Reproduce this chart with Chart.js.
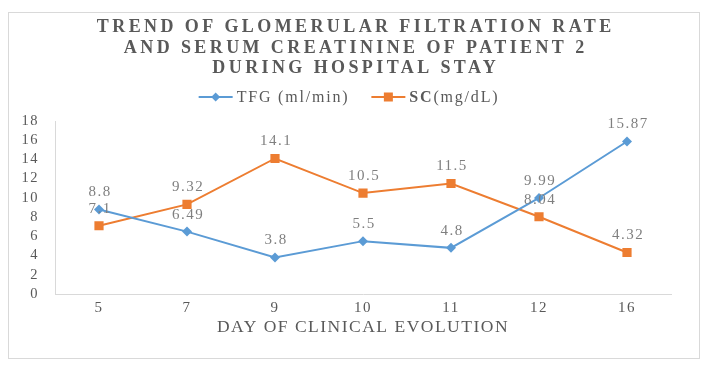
<!DOCTYPE html>
<html>
<head>
<meta charset="utf-8">
<script src="https://cdn.jsdelivr.net/npm/chart.js@4.4.1/dist/chart.umd.min.js"></script>
<style>
    html, body { margin: 0; padding: 0; background: #fff; }
    #frame { position: absolute; left: 8px; top: 12px; width: 690px; height: 345px; border: 1px solid #d9d9d9; }
    canvas { display: block; }
</style>
</head>
<body>
<div id="frame"><canvas id="gfrChart" width="690" height="345"></canvas></div>
<script>
// Chart data
const TITLE_LINES = [
    'TREND OF GLOMERULAR FILTRATION RATE',
    'AND SERUM CREATININE OF PATIENT 2',
    'DURING HOSPITAL STAY'
];
const DAYS = ['5', '7', '9', '10', '11', '12', '16'];
const TFG_VALUES = [8.8, 6.49, 3.8, 5.5, 4.8, 9.99, 15.87];
const SC_VALUES = [7.1, 9.32, 14.1, 10.5, 11.5, 8.04, 4.32];
const Y_TICKS = [0, 2, 4, 6, 8, 10, 12, 14, 16, 18];
const SERIES_NAMES = ['TFG (ml/min)', 'SC(mg/dL)'];
const BOLD_PREFIX = [false, true]; // "SC" is bold in the legend
const X_TITLE = 'DAY OF CLINICAL EVOLUTION';

const BLUE = '#5b9bd5';
const ORANGE = '#ed7d31';
const TEXT = '#595959';
const SERIF = '"Liberation Serif", "Times New Roman", serif';

// The original looks horizontally stretched: spread glyphs a little everywhere
const letterSpacingPlugin = {
    id: 'letterSpacing',
    beforeUpdate(chart) { chart.ctx.letterSpacing = '1.5px'; },
    beforeDraw(chart) { chart.ctx.letterSpacing = '1.5px'; }
};

const headerPlugin = {
    id: 'header',
    beforeDraw(chart) {
        const ctx = chart.ctx;
        ctx.save();
        ctx.font = 'bold 18px ' + SERIF;
        ctx.letterSpacing = '3.4px';
        ctx.fillStyle = TEXT;
        ctx.textAlign = 'center';
        ctx.textBaseline = 'middle';
        TITLE_LINES.forEach((line, i) => {
            ctx.fillText(line, chart.width / 2 + 1.7, 14.5 + i * 20.5);
        });
        ctx.restore();
    }
};

// Legend row: line with marker, then label
function drawMarker(ctx, x, y, color, style) {
    ctx.strokeStyle = color;
    ctx.fillStyle = color;
    ctx.lineWidth = 2;
    ctx.beginPath();
    ctx.moveTo(x, y);
    ctx.lineTo(x + 34, y);
    ctx.stroke();
    if (style === 'rectRot') {
        ctx.beginPath();
        ctx.moveTo(x + 17, y - 4.5); ctx.lineTo(x + 21.5, y); ctx.lineTo(x + 17, y + 4.5); ctx.lineTo(x + 12.5, y);
        ctx.closePath();
        ctx.fill();
    } else {
        ctx.fillRect(x + 12.5, y - 4.5, 9, 9);
    }
}

const legendPlugin = {
    id: 'legendRow',
    afterDraw(chart) {
        const ctx = chart.ctx;
        ctx.save();
        ctx.letterSpacing = '1.8px';
        ctx.textBaseline = 'middle';
        ctx.textAlign = 'left';
        const regular = '16px ' + SERIF;
        const bold = 'bold 16px ' + SERIF;
        const items = chart.data.datasets.map((ds, i) => {
            let parts = [{ text: ds.label, font: regular }];
            if (BOLD_PREFIX[i]) {
                const cut = ds.label.indexOf('(');
                parts = [{ text: ds.label.slice(0, cut), font: bold }, { text: ds.label.slice(cut), font: regular }];
            }
            let w = 38;
            parts.forEach(p => { ctx.font = p.font; p.w = ctx.measureText(p.text).width; w += p.w; });
            return { ds, parts, w };
        });
        const gap = 22;
        const total = items.reduce((s, it) => s + it.w, 0) + gap * (items.length - 1);
        let x = chart.width / 2 - total / 2 - 5;
        const y = 84;
        items.forEach(it => {
            drawMarker(ctx, x, y, it.ds.borderColor, it.ds.pointStyle);
            let tx = x + 38;
            it.parts.forEach(p => {
                ctx.font = p.font;
                ctx.fillStyle = TEXT;
                ctx.fillText(p.text, tx, y + 1);
                tx += p.w;
            });
            x += it.w + gap;
        });
        ctx.restore();
    }
};

const valueLabelPlugin = {
    id: 'valueLabels',
    afterDatasetsDraw(chart) {
        const ctx = chart.ctx;
        ctx.save();
        ctx.font = '15px ' + SERIF;
        ctx.fillStyle = '#7f7f7f';
        ctx.textAlign = 'center';
        ctx.textBaseline = 'middle';
        chart.data.datasets.forEach((ds, di) => {
            chart.getDatasetMeta(di).data.forEach((pt, i) => {
                ctx.fillText(String(ds.data[i]), pt.x + 1, pt.y - 17);
            });
        });
        ctx.restore();
    }
};

new Chart(document.getElementById('gfrChart'), {
    type: 'line',
    data: {
        labels: DAYS,
        datasets: [
            {
                label: SERIES_NAMES[0],
                data: TFG_VALUES,
                borderColor: BLUE,
                backgroundColor: BLUE,
                borderWidth: 2,
                pointStyle: 'rectRot',
                pointRadius: 5,
                pointBorderWidth: 0,
                tension: 0
            },
            {
                label: SERIES_NAMES[1],
                data: SC_VALUES,
                borderColor: ORANGE,
                backgroundColor: ORANGE,
                borderWidth: 2,
                pointStyle: 'rect',
                pointRadius: 6.5,
                pointBorderWidth: 0,
                tension: 0
            }
        ]
    },
    options: {
        responsive: false,
        animation: false,
        devicePixelRatio: 1,
        layout: { padding: { top: 108, right: 28, bottom: 16, left: 0 } },
        plugins: {
            title: { display: false },
            legend: { display: false },
            tooltip: { enabled: false }
        },
        scales: {
            x: {
                offset: true,
                grid: { display: false, drawTicks: false },
                border: { display: true, color: '#d9d9d9', width: 1 },
                ticks: { color: TEXT, padding: 5, font: { family: SERIF, size: 15 } },
                title: {
                    display: true,
                    text: X_TITLE,
                    color: TEXT,
                    font: { family: SERIF, size: 17.5 },
                    padding: { top: 4, bottom: 4 }
                },
                afterFit(scale) { scale.height = 48; }
            },
            y: {
                min: Y_TICKS[0],
                max: Y_TICKS[Y_TICKS.length - 1],
                grid: { display: false, drawTicks: false },
                border: { display: true, color: '#d9d9d9', width: 1 },
                ticks: {
                    stepSize: Y_TICKS[1] - Y_TICKS[0],
                    autoSkip: false,
                    color: TEXT,
                    padding: 16,
                    font: { family: SERIF, size: 14.5 }
                },
                afterFit(scale) { scale.width = 46; }
            }
        }
    },
    plugins: [letterSpacingPlugin, headerPlugin, legendPlugin, valueLabelPlugin]
});
</script>
</body>
</html>
